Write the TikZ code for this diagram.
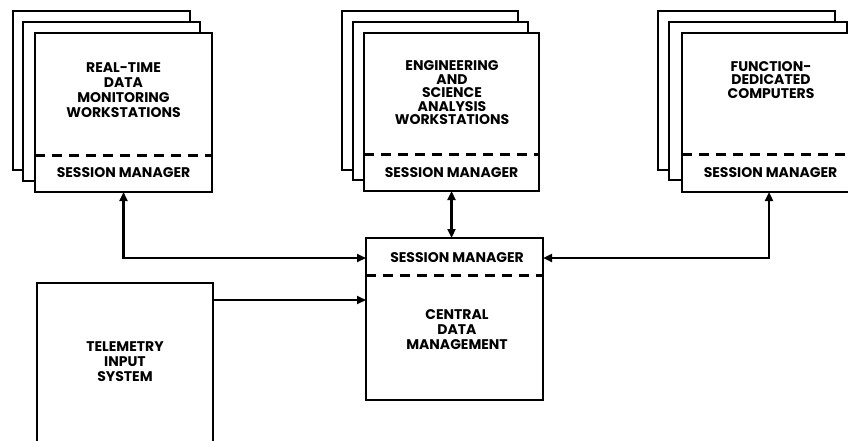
\documentclass[tikz,border=0pt]{standalone}
\usepackage{fontspec}
\setmainfont{Poppins}[BoldFont={Poppins Bold}]
\usetikzlibrary{arrows.meta,calc}
\begin{document}
\begin{tikzpicture}[x=1pt,y=-1pt,
  box/.style={draw, fill=white, line width=2.2pt, inner sep=0pt, outer sep=0pt, anchor=north west},
  openbox/.style={draw=none, inner sep=0pt, outer sep=0pt, anchor=north west},
  lbl/.style={font=\fontsize{14}{13.5}\selectfont\bfseries, align=center, inner sep=0pt},
  lblw/.style={font=\fontsize{14}{15}\selectfont\bfseries, align=center, inner sep=0pt},
  dsh/.style={line width=3pt, dash pattern=on 10pt off 7pt},
  conn/.style={line width=2.2pt},
  tip/.style={-{Triangle[length=9pt,width=8pt]}},
  tips/.style={{Triangle[length=9pt,width=8pt]}-{Triangle[length=9pt,width=8pt]}}]
\useasboundingbox (0,0) rectangle (848,441);
% left stack
\node[box, minimum width=177pt, minimum height=159pt] (lb) at (13,11) {};
\node[box, minimum width=177pt, minimum height=159pt] (lm) at (23,22) {};
\node[box, minimum width=177pt, minimum height=159pt] (lf) at (35,33) {};
\draw[dsh] ([yshift=-122pt]lf.north west) -- ([yshift=-122pt]lf.north east);
\node[lbl] (lsm) at ([yshift=-140pt]lf.north) {SESSION MANAGER};
\node[lblw] (lt) at (123.5,90) {REAL-TIME\\DATA\\MONITORING\\WORKSTATIONS};
% middle stack
\node[box, minimum width=176pt, minimum height=159pt] (mb) at (342,11) {};
\node[box, minimum width=175pt, minimum height=158pt] (mm) at (353,22) {};
\node[box, minimum width=175pt, minimum height=158pt] (mf) at (364,33) {};
\draw[dsh] ([yshift=-121pt]mf.north west) -- ([yshift=-121pt]mf.north east);
\node[lbl] (msm) at ([yshift=-140pt]mf.north) {SESSION MANAGER};
\node[lbl] (mt) at (452,93) {ENGINEERING\\AND\\SCIENCE\\ANALYSIS\\WORKSTATIONS};
% right stack
\node[box, minimum width=177pt, minimum height=159pt] (rb) at (658,11) {};
\node[box, minimum width=178pt, minimum height=158pt] (rm) at (669,22) {};
\node[box, minimum width=177pt, minimum height=159pt] (rf) at (682,33) {};
\draw[dsh] ([yshift=-121pt]rf.north west) -- ([yshift=-121pt]rf.north east);
\node[lbl] (rsm) at ([yshift=-140pt]rf.north) {SESSION MANAGER};
\node[lbl] (rt) at (771,80) {FUNCTION-\\DEDICATED\\COMPUTERS};
% central
\node[box, minimum width=177pt, minimum height=162pt] (cb) at (366,238) {};
\draw[dsh] ([yshift=-37pt]cb.north west) -- ([yshift=-37pt]cb.north east);
\node[lbl] (csm) at (457,258) {SESSION MANAGER};
\node[lblw] (ct) at (457,330) {CENTRAL\\DATA\\MANAGEMENT};
% telemetry
\node[openbox, minimum width=176pt, minimum height=158pt] (tel) at (37,283) {};
\draw[line width=2.2pt] (tel.south west) |- (tel.north east) -- (tel.south east);
\node[lblw] (tt) at (125,362) {TELEMETRY\\INPUT\\SYSTEM};
% connectors
\coordinate (rtap) at (769,192);
\coordinate (telout) at ([yshift=-17pt]tel.north east);
\draw[conn, tips] (lf.south) |- (cb.west |- csm);
\draw[conn, tips] (mf.south) -- (mf.south |- cb.north);
\draw[conn, tips] (rtap) |- (cb.east |- csm);
\draw[conn, tip] (telout) -- (telout -| cb.west);
\end{tikzpicture}
\end{document}
